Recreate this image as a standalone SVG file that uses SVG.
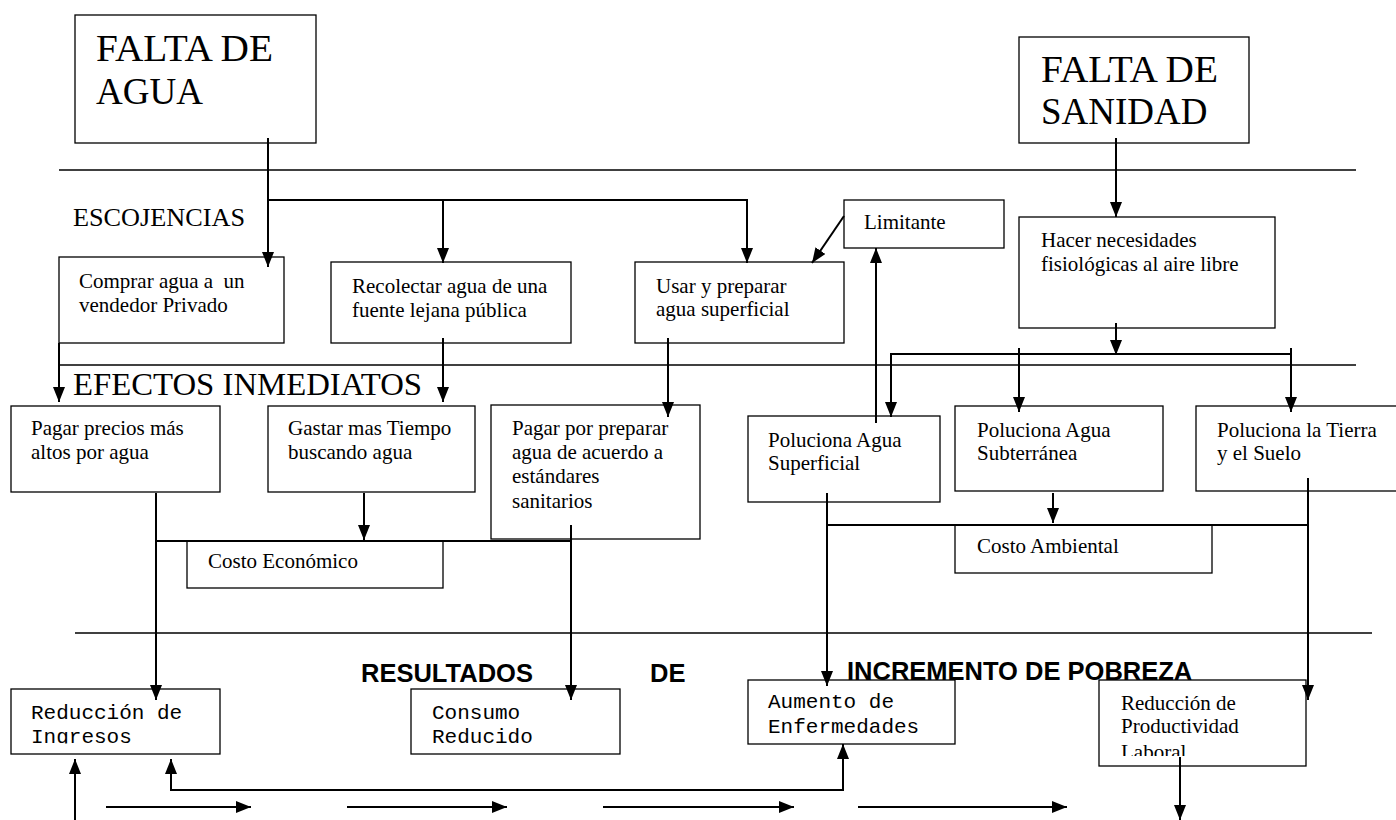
<svg xmlns="http://www.w3.org/2000/svg" width="1396" height="820" viewBox="0 0 1396 820">
<style>
.box{fill:#fff;stroke:#000;stroke-width:1.3}
.sep{stroke:#000;stroke-width:1.6}
.c{fill:none;stroke:#000;stroke-width:2}
.a{marker-end:url(#ah)}
.t{font-family:"Liberation Serif","Times New Roman",serif;font-size:21px;fill:#000}
.big{font-size:37px}
.m{font-family:"Liberation Mono","Courier New",monospace;font-size:21px;fill:#000}
.h{font-family:"Liberation Sans",Arial,sans-serif;font-weight:bold;font-size:25.5px;fill:#000}
</style>
<defs>
<marker id="ah" markerUnits="userSpaceOnUse" markerWidth="15" markerHeight="12" viewBox="0 0 15 12" refX="15" refY="6" orient="auto-start-reverse">
<path d="M0,0 L15,6 L0,12 Z" fill="#000"/>
</marker>
<clipPath id="clipIng"><rect x="11" y="689" width="209" height="54.5"/></clipPath>
<clipPath id="clipLab"><rect x="1099" y="680" width="207" height="76"/></clipPath>
</defs>
<rect width="1396" height="820" fill="#fff"/>

<g id="separators">
<line class="sep" x1="59" y1="170" x2="1356" y2="170"/>
<line class="sep" x1="59" y1="365" x2="1356" y2="365"/>
<line class="sep" x1="75" y1="633" x2="1372" y2="633"/>
</g>

<g id="falta-agua">
<rect class="box" x="75" y="15" width="241" height="128"/>
<text class="t big" x="96" y="61" textLength="177" lengthAdjust="spacingAndGlyphs">FALTA DE</text>
<text class="t big" x="96" y="104">AGUA</text>
</g>
<g id="falta-sanidad">
<rect class="box" x="1019" y="37" width="230" height="106"/>
<text class="t big" x="1041" y="82" textLength="177" lengthAdjust="spacingAndGlyphs">FALTA DE</text>
<text class="t big" x="1041" y="124">SANIDAD</text>
</g>
<g id="label-escojencias">
<text class="t" x="73" y="226" style="font-size:26px" textLength="172" lengthAdjust="spacingAndGlyphs">ESCOJENCIAS</text>
</g>
<g id="comprar">
<rect class="box" x="59" y="257" width="225" height="86"/>
<text class="t" x="79" y="288" style="white-space:pre">Comprar agua a  un</text>
<text class="t" x="79" y="312">vendedor Privado</text>
</g>
<g id="recolectar">
<rect class="box" x="331" y="262" width="240" height="81"/>
<text class="t" x="352" y="293">Recolectar agua de una</text>
<text class="t" x="352" y="317">fuente lejana pública</text>
</g>
<g id="usar">
<rect class="box" x="635" y="262" width="209" height="81"/>
<text class="t" x="656" y="293">Usar y preparar</text>
<text class="t" x="656" y="316">agua superficial</text>
</g>
<g id="limitante">
<rect class="box" x="844" y="200" width="160" height="48"/>
<text class="t" x="864" y="229">Limitante</text>
</g>
<g id="hacer">
<rect class="box" x="1019" y="217" width="256" height="111"/>
<text class="t" x="1041" y="247">Hacer necesidades</text>
<text class="t" x="1041" y="271">fisiológicas al aire libre</text>
</g>
<g id="label-efectos">
<text class="t" x="73" y="395" style="font-size:32px" textLength="349" lengthAdjust="spacingAndGlyphs">EFECTOS INMEDIATOS</text>
</g>
<g id="pagar-precios">
<rect class="box" x="11" y="406" width="209" height="86"/>
<text class="t" x="31" y="435">Pagar precios más</text>
<text class="t" x="31" y="459">altos por agua</text>
</g>
<g id="gastar">
<rect class="box" x="268" y="406" width="207" height="86"/>
<text class="t" x="288" y="435">Gastar mas Tiempo</text>
<text class="t" x="288" y="459">buscando agua</text>
</g>
<g id="pagar-preparar">
<rect class="box" x="491" y="405" width="209" height="134"/>
<text class="t" x="512" y="435">Pagar por preparar</text>
<text class="t" x="512" y="459">agua de acuerdo a</text>
<text class="t" x="512" y="483">estándares</text>
<text class="t" x="512" y="508">sanitarios</text>
</g>
<g id="pol-superficial">
<rect class="box" x="748" y="416" width="192" height="86"/>
<text class="t" x="768" y="447">Poluciona Agua</text>
<text class="t" x="768" y="470">Superficial</text>
</g>
<g id="pol-subterranea">
<rect class="box" x="955" y="406" width="208" height="85"/>
<text class="t" x="977" y="437">Poluciona Agua</text>
<text class="t" x="977" y="460">Subterránea</text>
</g>
<g id="pol-tierra">
<rect class="box" x="1196" y="406" width="210" height="85"/>
<text class="t" x="1217" y="437">Poluciona la Tierra</text>
<text class="t" x="1217" y="460">y el Suelo</text>
</g>
<g id="costo-economico">
<rect class="box" x="187" y="541" width="256" height="47"/>
<text class="t" x="208" y="568">Costo Económico</text>
</g>
<g id="costo-ambiental">
<rect class="box" x="955" y="525" width="257" height="48"/>
<text class="t" x="977" y="553">Costo Ambiental</text>
</g>
<g id="title-resultados">
<text class="h" x="361" y="682">RESULTADOS</text>
<text class="h" x="650" y="682">DE</text>
</g>
<g id="reduccion-ingresos">
<rect class="box" x="11" y="689" width="209" height="65"/>
<text class="m" x="31" y="719">Reducción de</text>
<text class="m" x="31" y="743" clip-path="url(#clipIng)">Ingresos</text>
</g>
<g id="consumo">
<rect class="box" x="411" y="689" width="209" height="65"/>
<text class="m" x="432" y="719">Consumo</text>
<text class="m" x="432" y="743">Reducido</text>
</g>
<g id="aumento">
<rect class="box" x="748" y="680" width="207" height="64"/>
<text class="m" x="768" y="708">Aumento de</text>
<text class="m" x="768" y="733">Enfermedades</text>
</g>
<g id="reduccion-productividad">
<rect class="box" x="1099" y="680" width="207" height="86"/>
<text class="t" x="1121" y="710">Reducción de</text>
<text class="t" x="1121" y="733">Productividad</text>
<text class="t" x="1121" y="759" clip-path="url(#clipLab)">Laboral</text>
</g>
<g id="title-incremento">
<text class="h" x="847" y="680">INCREMENTO DE POBREZA</text>
</g>

<g id="connectors">
<path class="c a" d="M268,138 L268,267"/>
<path class="c a" d="M268,200 L747,200 L747,263"/>
<path class="c a" d="M443,200 L443,263"/>
<path class="c a" d="M844,216 L812,263"/>
<path class="c a" d="M876,423 L876,248"/>
<path class="c a" d="M1116,138 L1116,217"/>
<path class="c a" d="M1116,323 L1116,355"/>
<path class="c a" d="M1291,348 L1291,354 L891,354 L891,417"/>
<path class="c a" d="M1019,348 L1019,412"/>
<path class="c a" d="M1291,354 L1291,412"/>
<path class="c a" d="M59,343 L59,402"/>
<path class="c a" d="M443,338 L443,402"/>
<path class="c a" d="M668,338 L668,417"/>
<path class="c a" d="M156,493 L156,700"/>
<path class="c" d="M156,541 L571,541"/>
<path class="c a" d="M364,493 L364,540"/>
<path class="c a" d="M571,525 L571,700"/>
<path class="c a" d="M827,493 L827,686"/>
<path class="c" d="M827,525 L1308,525"/>
<path class="c a" d="M1053,493 L1053,523"/>
<path class="c a" d="M1308,478 L1308,700"/>
<path class="c a" d="M75,820 L75,759"/>
<path class="c a" d="M171,759 L171,790 L843,790 L843,744" style="marker-start:url(#ah)"/>
<path class="c a" d="M1180,757 L1180,820"/>
<path class="c a" d="M106,807 L251,807"/>
<path class="c a" d="M347,807 L507,807"/>
<path class="c a" d="M603,807 L794,807"/>
<path class="c a" d="M858,807 L1067,807"/>
</g>
</svg>
